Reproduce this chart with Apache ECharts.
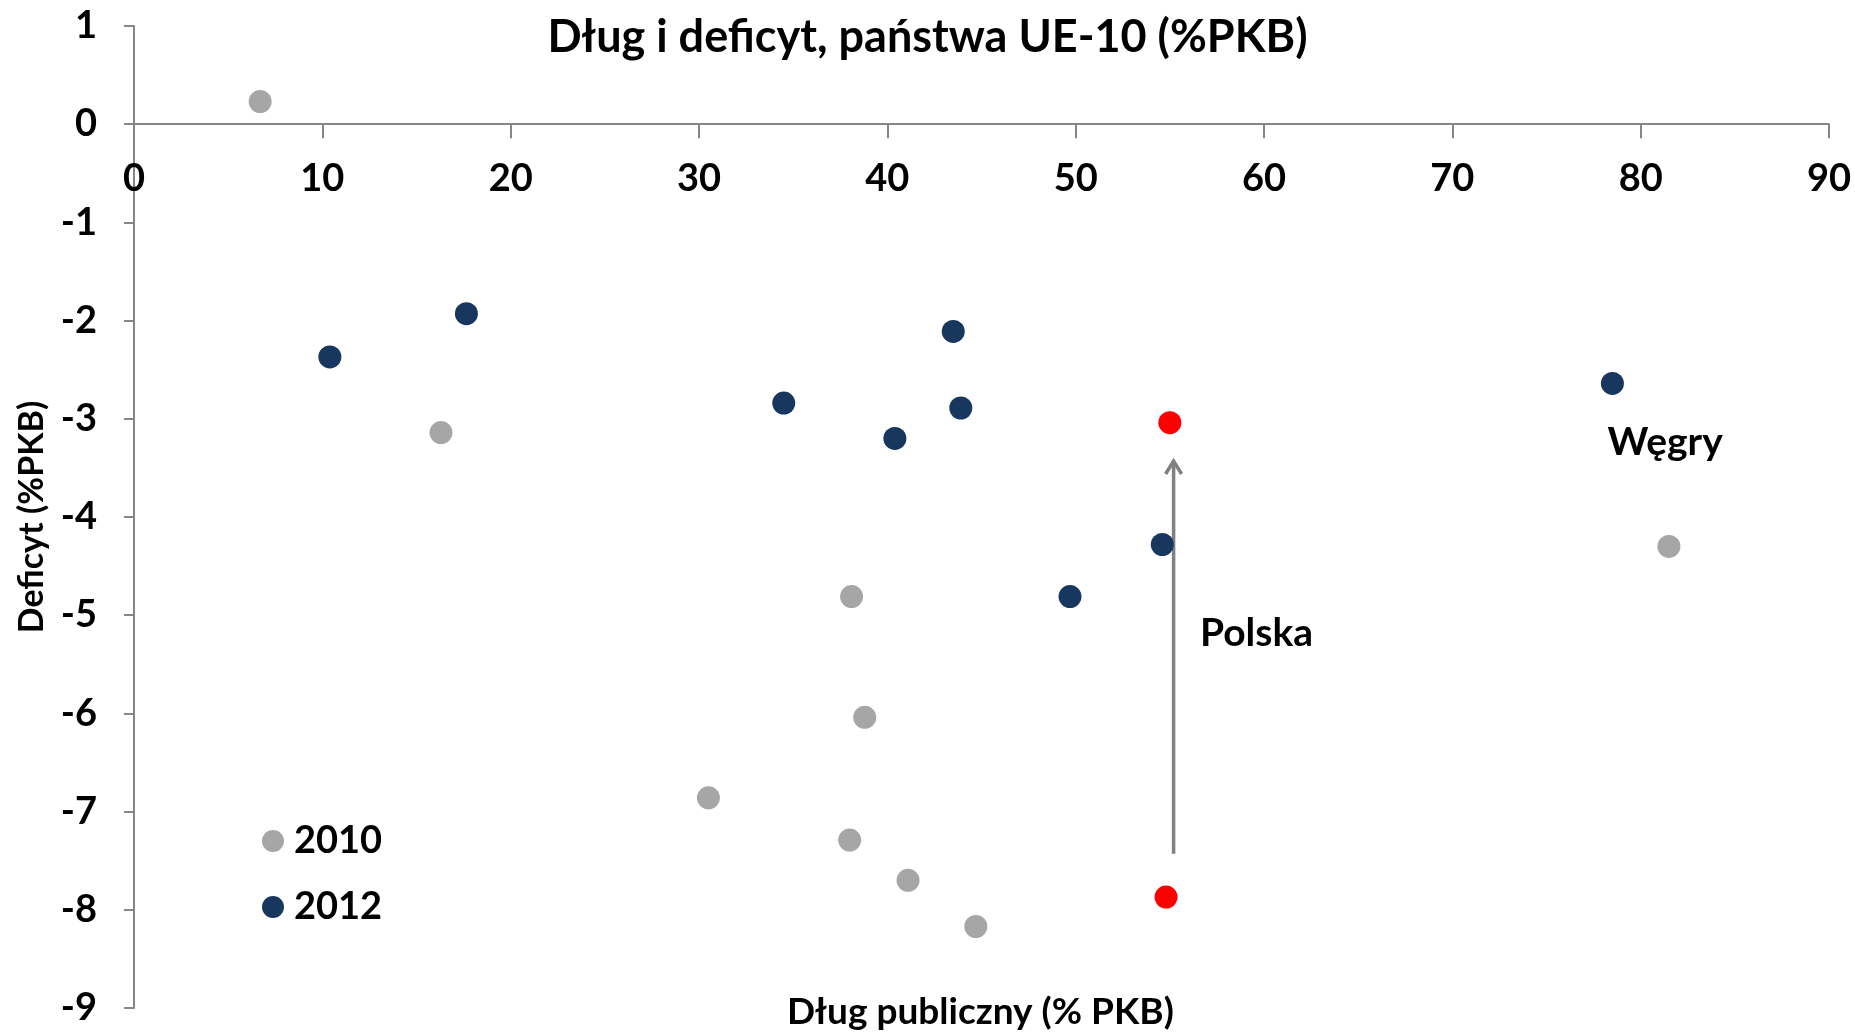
<!DOCTYPE html>
<html>
<head>
<meta charset="utf-8">
<script src="https://cdn.jsdelivr.net/npm/echarts@6/dist/echarts.min.js"></script>
<style>
  html, body { margin: 0; padding: 0; background: #ffffff; }
  #chart { width: 1855px; height: 1032px; }
</style>
</head>
<body>
<div id="chart"></div>
<script>
// Dług publiczny (x, % PKB) i saldo budżetu (y, % PKB), państwa UE-10
const debt2010    = [6.7, 16.3, 38.1, 38.8, 30.5, 38.0, 41.1, 44.7, 81.5];
const deficit2010 = [0.23, -3.14, -4.81, -6.04, -6.86, -7.29, -7.70, -8.17, -4.30];
const debt2012    = [10.4, 17.65, 43.5, 34.5, 43.9, 40.4, 54.6, 49.7, 78.5];
const deficit2012 = [-2.37, -1.93, -2.11, -2.84, -2.89, -3.20, -4.28, -4.81, -2.64];

// Polska wyróżniona na czerwono
const poland2010 = [54.8, -7.87];
const poland2012 = [55.0, -3.04];

// Strzałka zmiany dla Polski: [x, y początku, y końca]
const polandArrow = [[55.2, -7.43, -3.43]];

// Podpisy krajów: [x, y, tekst]
const countryLabels = [
  [59.6, -5.19, 'Polska'],
  [81.3, -3.24, 'Węgry']
];

const xMin = 0, xMax = 90, xStep = 10;
const yMin = -9, yMax = 1, yStep = 1;
const xAxisTitle = 'Dług publiczny (% PKB)';
const yAxisTitle = 'Deficyt (%PKB)';

const FONT = 'Lato';
const COLOR_2010 = '#a6a6a6';
const COLOR_2012 = '#17375e';
const COLOR_PL = '#ff0000';

// obszar wykresu (piksele)
const GRID = { left: 134, right: 26, top: 26, bottom: 24 };
const CHART_H = 1032;

function zipPoints(xs, ys) {
  return xs.map((x, i) => [x, ys[i]]);
}

// oś X rysowana na wysokości y = 0: przesunięcie od dolnej krawędzi siatki
const plotH = CHART_H - GRID.top - GRID.bottom;
const xAxisOffset = -plotH * (0 - yMin) / (yMax - yMin);

const chart = echarts.init(document.getElementById('chart'));

chart.setOption({
  backgroundColor: '#ffffff',
  animation: false,
  textStyle: { fontFamily: FONT, fontWeight: 'bold', color: '#000' },
  title: {
    text: 'Dług i deficyt, państwa UE-10 (%PKB)',
    left: 'center',
    top: 10,
    textStyle: { fontFamily: FONT, fontWeight: 'bold', fontSize: 45, color: '#000' }
  },
  legend: {
    data: ['2010', '2012'],
    orient: 'vertical',
    left: 257,
    top: 816,
    itemWidth: 22,
    itemHeight: 22,
    itemGap: 26,
    icon: 'circle',
    textStyle: { fontFamily: FONT, fontWeight: 'bold', fontSize: 38, lineHeight: 40, color: '#000', padding: [0, 0, 0, 5] }
  },
  // tytuł osi X na dole wykresu
  graphic: [{
    type: 'text',
    left: 787,
    top: 994,
    style: { text: xAxisTitle, font: 'bold 37px ' + FONT, fill: '#000' }
  }],
  grid: { left: GRID.left, right: GRID.right, top: GRID.top, bottom: GRID.bottom, containLabel: false, outerBoundsMode: 'none' },
  xAxis: {
    type: 'value',
    position: 'bottom',
    offset: xAxisOffset,
    min: xMin, max: xMax, interval: xStep,
    axisLine: { onZero: false, lineStyle: { color: '#868686', width: 2 } },
    axisTick: { show: true, inside: false, length: 14, lineStyle: { color: '#868686', width: 2 } },
    axisLabel: { show: true, margin: 36, fontFamily: FONT, fontWeight: 'bold', fontSize: 38, color: '#000' },
    splitLine: { show: false }
  },
  yAxis: {
    type: 'value',
    min: yMin, max: yMax, interval: yStep,
    name: yAxisTitle,
    nameLocation: 'middle',
    nameGap: 85,
    nameRotate: 90,
    nameTextStyle: { fontFamily: FONT, fontWeight: 'bold', fontSize: 34, color: '#000' },
    axisLine: { onZero: false, lineStyle: { color: '#868686', width: 2 } },
    axisTick: { show: true, inside: false, length: 10, lineStyle: { color: '#868686', width: 2 } },
    axisLabel: { margin: 37, fontFamily: FONT, fontWeight: 'bold', fontSize: 38, color: '#000' },
    splitLine: { show: false }
  },
  series: [
    {
      name: '2010',
      type: 'scatter',
      symbolSize: 23,
      itemStyle: { color: COLOR_2010, opacity: 1 },
      data: zipPoints(debt2010, deficit2010).concat([
        { value: poland2010, itemStyle: { color: COLOR_PL } }
      ])
    },
    {
      name: '2012',
      type: 'scatter',
      symbolSize: 23,
      itemStyle: { color: COLOR_2012, opacity: 1 },
      data: zipPoints(debt2012, deficit2012).concat([
        { value: poland2012, itemStyle: { color: COLOR_PL } }
      ])
    },
    {
      name: 'strzałka',
      type: 'custom',
      silent: true,
      data: polandArrow,
      renderItem: function (params, api) {
        const p1 = api.coord([api.value(0), api.value(1)]);
        const p2 = api.coord([api.value(0), api.value(2)]);
        const style = { stroke: '#808080', lineWidth: 3.5, fill: null };
        return {
          type: 'group',
          children: [
            { type: 'line', shape: { x1: p1[0], y1: p1[1], x2: p2[0], y2: p2[1] + 2 }, style: style },
            { type: 'polyline', shape: { points: [[p2[0] - 8, p2[1] + 13], [p2[0], p2[1]], [p2[0] + 8, p2[1] + 13]] }, style: style }
          ]
        };
      }
    },
    {
      name: 'podpisy',
      type: 'scatter',
      silent: true,
      symbolSize: 1,
      itemStyle: { color: 'rgba(0,0,0,0)', opacity: 1 },
      data: countryLabels.map(d => ({ value: [d[0], d[1]], name: d[2] })),
      label: {
        show: true,
        position: 'inside',
        formatter: '{b}',
        fontFamily: FONT,
        fontWeight: 'bold',
        fontSize: 39,
        color: '#000'
      }
    }
  ]
});
</script>
</body>
</html>
